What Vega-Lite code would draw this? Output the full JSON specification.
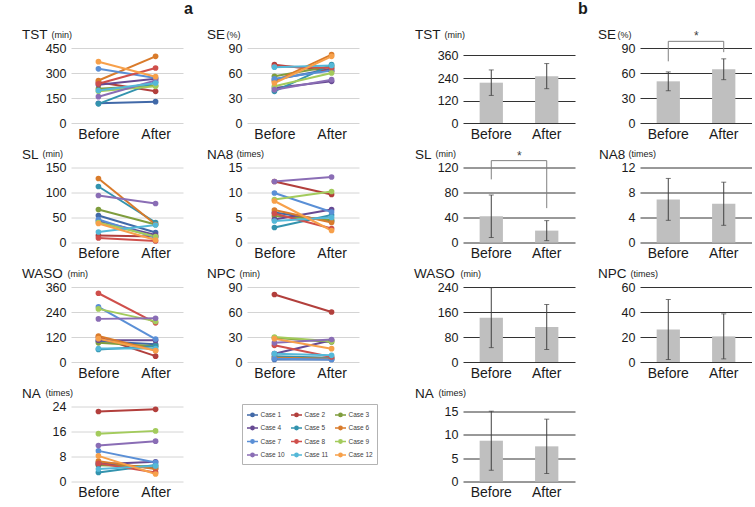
{
 "$schema": "https://vega.github.io/schema/vega-lite/v6.json",
 "padding": {"left": 22, "top": 0, "right": 0, "bottom": 0},
 "background": "white",
 "datasets": {
  "lines": [
   {"m":"TST","n":1,"Before":118,"After":128},{"m":"TST","n":2,"Before":245,"After":190},{"m":"TST","n":3,"Before":205,"After":225},{"m":"TST","n":4,"Before":230,"After":265},{"m":"TST","n":5,"Before":115,"After":245},{"m":"TST","n":6,"Before":255,"After":400},{"m":"TST","n":7,"Before":325,"After":270},{"m":"TST","n":8,"Before":235,"After":330},{"m":"TST","n":9,"Before":190,"After":220},{"m":"TST","n":10,"Before":158,"After":255},{"m":"TST","n":11,"Before":195,"After":240},{"m":"TST","n":12,"Before":368,"After":278},
   {"m":"SE","n":1,"Before":52,"After":65},{"m":"SE","n":2,"Before":70,"After":62},{"m":"SE","n":3,"Before":56,"After":68},{"m":"SE","n":4,"Before":42,"After":50},{"m":"SE","n":5,"Before":38,"After":70},{"m":"SE","n":6,"Before":50,"After":82},{"m":"SE","n":7,"Before":53,"After":63},{"m":"SE","n":8,"Before":68,"After":66},{"m":"SE","n":9,"Before":44,"After":60},{"m":"SE","n":10,"Before":40,"After":52},{"m":"SE","n":11,"Before":67,"After":69},{"m":"SE","n":12,"Before":48,"After":80},
   {"m":"SL","n":1,"Before":54,"After":20},{"m":"SL","n":2,"Before":14,"After":12},{"m":"SL","n":3,"Before":66,"After":36},{"m":"SL","n":4,"Before":43,"After":15},{"m":"SL","n":5,"Before":112,"After":40},{"m":"SL","n":6,"Before":128,"After":36},{"m":"SL","n":7,"Before":46,"After":10},{"m":"SL","n":8,"Before":9,"After":3},{"m":"SL","n":9,"Before":40,"After":12},{"m":"SL","n":10,"Before":94,"After":78},{"m":"SL","n":11,"Before":21,"After":35},{"m":"SL","n":12,"Before":38,"After":5},
   {"m":"NA8","n":1,"Before":6,"After":4.3},{"m":"NA8","n":2,"Before":12.2,"After":9.6},{"m":"NA8","n":3,"Before":5.3,"After":4.5},{"m":"NA8","n":4,"Before":4.6,"After":6.6},{"m":"NA8","n":5,"Before":3,"After":5.5},{"m":"NA8","n":6,"Before":6.5,"After":4},{"m":"NA8","n":7,"Before":9.9,"After":6.1},{"m":"NA8","n":8,"Before":5.8,"After":2.8},{"m":"NA8","n":9,"Before":8.6,"After":10.2},{"m":"NA8","n":10,"Before":12.2,"After":13.1},{"m":"NA8","n":11,"Before":4.3,"After":5},{"m":"NA8","n":12,"Before":8.3,"After":2.4},
   {"m":"WASO","n":1,"Before":100,"After":85},{"m":"WASO","n":2,"Before":120,"After":28},{"m":"WASO","n":3,"Before":92,"After":76},{"m":"WASO","n":4,"Before":105,"After":105},{"m":"WASO","n":5,"Before":60,"After":76},{"m":"WASO","n":6,"Before":125,"After":55},{"m":"WASO","n":7,"Before":265,"After":110},{"m":"WASO","n":8,"Before":330,"After":188},{"m":"WASO","n":9,"Before":255,"After":195},{"m":"WASO","n":10,"Before":207,"After":210},{"m":"WASO","n":11,"Before":65,"After":65},{"m":"WASO","n":12,"Before":112,"After":55},
   {"m":"NPC","n":1,"Before":3,"After":3},{"m":"NPC","n":2,"Before":81,"After":60},{"m":"NPC","n":3,"Before":29,"After":24},{"m":"NPC","n":4,"Before":10,"After":26},{"m":"NPC","n":5,"Before":7,"After":5},{"m":"NPC","n":6,"Before":5,"After":4},{"m":"NPC","n":7,"Before":4,"After":3},{"m":"NPC","n":8,"Before":20,"After":6},{"m":"NPC","n":9,"Before":30,"After":25},{"m":"NPC","n":10,"Before":23,"After":27},{"m":"NPC","n":11,"Before":10,"After":8},{"m":"NPC","n":12,"Before":28,"After":16},
   {"m":"NA","n":1,"Before":6,"After":4.2},{"m":"NA","n":2,"Before":22.4,"After":23.1},{"m":"NA","n":3,"Before":5.2,"After":4.8},{"m":"NA","n":4,"Before":5.5,"After":6.3},{"m":"NA","n":5,"Before":2.9,"After":5.3},{"m":"NA","n":6,"Before":6.5,"After":4},{"m":"NA","n":7,"Before":9.8,"After":6.1},{"m":"NA","n":8,"Before":5.8,"After":2.9},{"m":"NA","n":9,"Before":15.3,"After":16.2},{"m":"NA","n":10,"Before":11.5,"After":12.9},{"m":"NA","n":11,"Before":4,"After":5},{"m":"NA","n":12,"Before":8.2,"After":2.4}
  ],
  "bars": [
   {"m":"TST","t":"Before","mean":215,"sd":68},{"m":"TST","t":"After","mean":250,"sd":67},
   {"m":"SE","t":"Before","mean":50,"sd":11.3},{"m":"SE","t":"After","mean":64.5,"sd":12.5},
   {"m":"SL","t":"Before","mean":42,"sd":34},{"m":"SL","t":"After","mean":19,"sd":16},
   {"m":"NA8","t":"Before","mean":6.9,"sd":3.35},{"m":"NA8","t":"After","mean":6.2,"sd":3.45},
   {"m":"WASO","t":"Before","mean":142,"sd":96},{"m":"WASO","t":"After","mean":112,"sd":72},
   {"m":"NPC","t":"Before","mean":26,"sd":24},{"m":"NPC","t":"After","mean":20.5,"sd":18},
   {"m":"NA","t":"Before","mean":8.7,"sd":6.3},{"m":"NA","t":"After","mean":7.5,"sd":5.8}
  ]
 },
 "spacing": 55,
 "hconcat": [
  {
   "title": {"text": "a", "fontSize": 16, "fontWeight": "bold", "anchor": "start", "dx": 113, "dy": -7},
   "columns": 2, "bounds": "flush", "spacing": {"row": 44.5, "column": 64},
   "concat": [
    {"width":112,"height":75,"title":{"text":"TST","dx":-49,"dy":15.5},"data":{"name":"lines"},
     "transform":[{"filter":"datum.m==='TST'"},{"fold":["Before","After"],"as":["t","v"]}],
     "encoding":{"x":{"field":"t","type":"nominal","title":null,"scale":{"type":"point","domain":["Before","After"],"padding":0.48}},
      "y":{"field":"v","type":"quantitative","title":"(min)","scale":{"domain":[0,450]},"axis":{"values":[0,150,300,450],"titleX":-20}},
      "color":{"field":"n","type":"nominal","legend":{"orient":"none","legendX":171,"legendY":356,"direction":"horizontal","columns":3,"title":null,"labelExpr":"'Case ' + datum.label","symbolType":"M-1,0H1M-0.3,0A0.3,0.3 0 1,1 0.3,0A0.3,0.3 0 1,1 -0.3,0","symbolSize":121,"symbolStrokeWidth":1.5,"labelFontSize":6.5,"labelColor":"#404040","labelOffset":1.5,"strokeColor":"#b3b3b3","fillColor":"white","padding":4,"rowPadding":1.5,"columnPadding":3}}},
     "layer":[{"mark":{"type":"line","strokeWidth":2}},{"mark":{"type":"circle","size":32,"opacity":1}}]},
    {"width":112,"height":75,"title":{"text":"SE","dx":-40,"dy":15.5},"data":{"name":"lines"},
     "transform":[{"filter":"datum.m==='SE'"},{"fold":["Before","After"],"as":["t","v"]}],
     "encoding":{"x":{"field":"t","type":"nominal","title":null,"scale":{"type":"point","domain":["Before","After"],"padding":0.48}},
      "y":{"field":"v","type":"quantitative","title":"(%)","scale":{"domain":[0,90]},"axis":{"values":[0,30,60,90],"titleX":-21}},
      "color":{"field":"n","type":"nominal"}},
     "layer":[{"mark":{"type":"line","strokeWidth":2}},{"mark":{"type":"circle","size":32,"opacity":1}}]},
    {"width":112,"height":75,"title":{"text":"SL","dx":-49,"dy":15.5},"data":{"name":"lines"},
     "transform":[{"filter":"datum.m==='SL'"},{"fold":["Before","After"],"as":["t","v"]}],
     "encoding":{"x":{"field":"t","type":"nominal","title":null,"scale":{"type":"point","domain":["Before","After"],"padding":0.48}},
      "y":{"field":"v","type":"quantitative","title":"(min)","scale":{"domain":[0,150]},"axis":{"values":[0,50,100,150],"titleX":-29}},
      "color":{"field":"n","type":"nominal"}},
     "layer":[{"mark":{"type":"line","strokeWidth":2}},{"mark":{"type":"circle","size":32,"opacity":1}}]},
    {"width":112,"height":75,"title":{"text":"NA8","dx":-40,"dy":15.5},"data":{"name":"lines"},
     "transform":[{"filter":"datum.m==='NA8'"},{"fold":["Before","After"],"as":["t","v"]}],
     "encoding":{"x":{"field":"t","type":"nominal","title":null,"scale":{"type":"point","domain":["Before","After"],"padding":0.48}},
      "y":{"field":"v","type":"quantitative","title":"(times)","scale":{"domain":[0,15]},"axis":{"values":[0,5,10,15],"titleX":-11}},
      "color":{"field":"n","type":"nominal"}},
     "layer":[{"mark":{"type":"line","strokeWidth":2}},{"mark":{"type":"circle","size":32,"opacity":1}}]},
    {"width":112,"height":75,"title":{"text":"WASO","dx":-49,"dy":15.5},"data":{"name":"lines"},
     "transform":[{"filter":"datum.m==='WASO'"},{"fold":["Before","After"],"as":["t","v"]}],
     "encoding":{"x":{"field":"t","type":"nominal","title":null,"scale":{"type":"point","domain":["Before","After"],"padding":0.48}},
      "y":{"field":"v","type":"quantitative","title":"(min)","scale":{"domain":[0,360]},"axis":{"values":[0,120,240,360],"titleX":-4}},
      "color":{"field":"n","type":"nominal"}},
     "layer":[{"mark":{"type":"line","strokeWidth":2}},{"mark":{"type":"circle","size":32,"opacity":1}}]},
    {"width":112,"height":75,"title":{"text":"NPC","dx":-40,"dy":15.5},"data":{"name":"lines"},
     "transform":[{"filter":"datum.m==='NPC'"},{"fold":["Before","After"],"as":["t","v"]}],
     "encoding":{"x":{"field":"t","type":"nominal","title":null,"scale":{"type":"point","domain":["Before","After"],"padding":0.48}},
      "y":{"field":"v","type":"quantitative","title":"(min)","scale":{"domain":[0,90]},"axis":{"values":[0,30,60,90],"titleX":-8}},
      "color":{"field":"n","type":"nominal"}},
     "layer":[{"mark":{"type":"line","strokeWidth":2}},{"mark":{"type":"circle","size":32,"opacity":1}}]},
    {"width":112,"height":75,"title":{"text":"NA","dx":-49,"dy":15.5},"data":{"name":"lines"},
     "transform":[{"filter":"datum.m==='NA'"},{"fold":["Before","After"],"as":["t","v"]}],
     "encoding":{"x":{"field":"t","type":"nominal","title":null,"scale":{"type":"point","domain":["Before","After"],"padding":0.48}},
      "y":{"field":"v","type":"quantitative","title":"(times)","scale":{"domain":[0,24]},"axis":{"values":[0,8,16,24],"titleX":-26}},
      "color":{"field":"n","type":"nominal"}},
     "layer":[{"mark":{"type":"line","strokeWidth":2}},{"mark":{"type":"circle","size":32,"opacity":1}}]}
   ]
  },
  {
   "title": {"text": "b", "fontSize": 16, "fontWeight": "bold", "anchor": "start", "dx": 115, "dy": -7},
   "columns": 2, "bounds": "flush", "spacing": {"row": 44.5, "column": 65},
   "concat": [
    {"width":112,"height":75,"title":{"text":"TST","dx":-48,"dy":15.5},
     "layer":[
      {"data":{"name":"bars"},"transform":[{"filter":"datum.m==='TST'"}],"mark":{"type":"bar","color":"#bfbfbf"},
       "encoding":{"x":{"field":"t","type":"nominal","title":null,"scale":{"domain":["Before","After"],"paddingInner":0.58,"paddingOuter":0.3}},
        "y":{"field":"mean","type":"quantitative","title":"(min)","scale":{"domain":[0,360]},"axis":{"values":[0,120,240,360],"titleX":-19,"gridColor":"#333333"}}}},
      {"data":{"name":"bars"},"transform":[{"filter":"datum.m==='TST'"}],"mark":{"type":"errorbar","ticks":{"size":5},"color":"#404040"},
       "encoding":{"x":{"field":"t","type":"nominal","title":null,"scale":{"domain":["Before","After"]}},"y":{"field":"mean","type":"quantitative","title":"(min)","axis":{"values":[0,120,240,360],"titleX":-19,"gridColor":"#333333"}},"yError":{"field":"sd"}}}
     ]},
    {"width":112,"height":75,"title":{"text":"SE","dx":-42,"dy":15.5},
     "layer":[
      {"data":{"name":"bars"},"transform":[{"filter":"datum.m==='SE'"}],"mark":{"type":"bar","color":"#bfbfbf"},
       "encoding":{"x":{"field":"t","type":"nominal","title":null,"scale":{"domain":["Before","After"],"paddingInner":0.58,"paddingOuter":0.3}},
        "y":{"field":"mean","type":"quantitative","title":"(%)","scale":{"domain":[0,90]},"axis":{"values":[0,30,60,90],"titleX":-23,"gridColor":"#333333"}}}},
      {"data":{"name":"bars"},"transform":[{"filter":"datum.m==='SE'"}],"mark":{"type":"errorbar","ticks":{"size":5},"color":"#404040"},
       "encoding":{"x":{"field":"t","type":"nominal","title":null,"scale":{"domain":["Before","After"]}},"y":{"field":"mean","type":"quantitative","title":"(%)","axis":{"values":[0,30,60,90],"titleX":-23,"gridColor":"#333333"}},"yError":{"field":"sd"}}},
      {"data":{"values":[{"t":"Before","lo":74,"hi":98},{"t":"After","lo":85,"hi":98}]},"mark":{"type":"rule","color":"#808080","strokeWidth":1},
       "encoding":{"x":{"field":"t","type":"nominal","title":null,"bandPosition":0.5,"scale":{"domain":["Before","After"]}},"y":{"field":"lo","type":"quantitative","title":"(%)","axis":{"values":[0,30,60,90],"titleX":-23,"gridColor":"#333333"}},"y2":{"field":"hi"}}},
      {"data":{"values":[{"a":"Before","b":"After","y":98}]},"mark":{"type":"rule","color":"#808080","strokeWidth":1},
       "encoding":{"x":{"field":"a","type":"nominal","title":null,"bandPosition":0.5,"scale":{"domain":["Before","After"]}},"x2":{"field":"b","bandPosition":0.5},"y":{"field":"y","type":"quantitative","title":"(%)","axis":{"values":[0,30,60,90],"titleX":-23,"gridColor":"#333333"}}}},
      {"data":{"values":[{"a":"Before","y":105,"s":"*"}]},"mark":{"type":"text","fontSize":12,"color":"#404040","baseline":"middle"},
       "encoding":{"x":{"field":"a","type":"nominal","title":null,"bandPosition":1.7,"scale":{"domain":["Before","After"]}},"y":{"field":"y","type":"quantitative","title":"(%)","axis":{"values":[0,30,60,90],"titleX":-23,"gridColor":"#333333"}},"text":{"field":"s"}}}
     ]},
    {"width":112,"height":75,"title":{"text":"SL","dx":-48,"dy":15.5},
     "layer":[
      {"data":{"name":"bars"},"transform":[{"filter":"datum.m==='SL'"}],"mark":{"type":"bar","color":"#bfbfbf"},
       "encoding":{"x":{"field":"t","type":"nominal","title":null,"scale":{"domain":["Before","After"],"paddingInner":0.58,"paddingOuter":0.3}},
        "y":{"field":"mean","type":"quantitative","title":"(min)","scale":{"domain":[0,120]},"axis":{"values":[0,40,80,120],"titleX":-28,"gridColor":"#333333"}}}},
      {"data":{"name":"bars"},"transform":[{"filter":"datum.m==='SL'"}],"mark":{"type":"errorbar","ticks":{"size":5},"color":"#404040"},
       "encoding":{"x":{"field":"t","type":"nominal","title":null,"scale":{"domain":["Before","After"]}},"y":{"field":"mean","type":"quantitative","title":"(min)","axis":{"values":[0,40,80,120],"titleX":-28,"gridColor":"#333333"}},"yError":{"field":"sd"}}},
      {"data":{"values":[{"t":"Before","lo":101,"hi":131},{"t":"After","lo":55,"hi":131}]},"mark":{"type":"rule","color":"#808080","strokeWidth":1},
       "encoding":{"x":{"field":"t","type":"nominal","title":null,"bandPosition":0.5,"scale":{"domain":["Before","After"]}},"y":{"field":"lo","type":"quantitative","title":"(min)","axis":{"values":[0,40,80,120],"titleX":-28,"gridColor":"#333333"}},"y2":{"field":"hi"}}},
      {"data":{"values":[{"a":"Before","b":"After","y":131}]},"mark":{"type":"rule","color":"#808080","strokeWidth":1},
       "encoding":{"x":{"field":"a","type":"nominal","title":null,"bandPosition":0.5,"scale":{"domain":["Before","After"]}},"x2":{"field":"b","bandPosition":0.5},"y":{"field":"y","type":"quantitative","title":"(min)","axis":{"values":[0,40,80,120],"titleX":-28,"gridColor":"#333333"}}}},
      {"data":{"values":[{"a":"Before","y":139,"s":"*"}]},"mark":{"type":"text","fontSize":12,"color":"#404040","baseline":"middle"},
       "encoding":{"x":{"field":"a","type":"nominal","title":null,"bandPosition":1.7,"scale":{"domain":["Before","After"]}},"y":{"field":"y","type":"quantitative","title":"(min)","axis":{"values":[0,40,80,120],"titleX":-28,"gridColor":"#333333"}},"text":{"field":"s"}}}
     ]},
    {"width":112,"height":75,"title":{"text":"NA8","dx":-41,"dy":15.5},
     "layer":[
      {"data":{"name":"bars"},"transform":[{"filter":"datum.m==='NA8'"}],"mark":{"type":"bar","color":"#bfbfbf"},
       "encoding":{"x":{"field":"t","type":"nominal","title":null,"scale":{"domain":["Before","After"],"paddingInner":0.58,"paddingOuter":0.3}},
        "y":{"field":"mean","type":"quantitative","title":"(times)","scale":{"domain":[0,12]},"axis":{"values":[0,4,8,12],"titleX":-12,"gridColor":"#333333"}}}},
      {"data":{"name":"bars"},"transform":[{"filter":"datum.m==='NA8'"}],"mark":{"type":"errorbar","ticks":{"size":5},"color":"#404040"},
       "encoding":{"x":{"field":"t","type":"nominal","title":null,"scale":{"domain":["Before","After"]}},"y":{"field":"mean","type":"quantitative","title":"(times)","axis":{"values":[0,4,8,12],"titleX":-12,"gridColor":"#333333"}},"yError":{"field":"sd"}}}
     ]},
    {"width":112,"height":75,"title":{"text":"WASO","dx":-49,"dy":15.5},
     "layer":[
      {"data":{"name":"bars"},"transform":[{"filter":"datum.m==='WASO'"}],"mark":{"type":"bar","color":"#bfbfbf"},
       "encoding":{"x":{"field":"t","type":"nominal","title":null,"scale":{"domain":["Before","After"],"paddingInner":0.58,"paddingOuter":0.3}},
        "y":{"field":"mean","type":"quantitative","title":"(min)","scale":{"domain":[0,240]},"axis":{"values":[0,80,160,240],"titleX":-3,"gridColor":"#333333"}}}},
      {"data":{"name":"bars"},"transform":[{"filter":"datum.m==='WASO'"}],"mark":{"type":"errorbar","ticks":{"size":5},"color":"#404040"},
       "encoding":{"x":{"field":"t","type":"nominal","title":null,"scale":{"domain":["Before","After"]}},"y":{"field":"mean","type":"quantitative","title":"(min)","axis":{"values":[0,80,160,240],"titleX":-3,"gridColor":"#333333"}},"yError":{"field":"sd"}}}
     ]},
    {"width":112,"height":75,"title":{"text":"NPC","dx":-42,"dy":15.5},
     "layer":[
      {"data":{"name":"bars"},"transform":[{"filter":"datum.m==='NPC'"}],"mark":{"type":"bar","color":"#bfbfbf"},
       "encoding":{"x":{"field":"t","type":"nominal","title":null,"scale":{"domain":["Before","After"],"paddingInner":0.58,"paddingOuter":0.3}},
        "y":{"field":"mean","type":"quantitative","title":"(times)","scale":{"domain":[0,60]},"axis":{"values":[0,20,40,60],"titleX":-10,"gridColor":"#333333"}}}},
      {"data":{"name":"bars"},"transform":[{"filter":"datum.m==='NPC'"}],"mark":{"type":"errorbar","ticks":{"size":5},"color":"#404040"},
       "encoding":{"x":{"field":"t","type":"nominal","title":null,"scale":{"domain":["Before","After"]}},"y":{"field":"mean","type":"quantitative","title":"(times)","axis":{"values":[0,20,40,60],"titleX":-10,"gridColor":"#333333"}},"yError":{"field":"sd"}}}
     ]},
    {"width":112,"height":75,"title":{"text":"NA","dx":-48,"dy":15.5},
     "layer":[
      {"data":{"name":"bars"},"transform":[{"filter":"datum.m==='NA'"}],"mark":{"type":"bar","color":"#bfbfbf"},
       "encoding":{"x":{"field":"t","type":"nominal","title":null,"scale":{"domain":["Before","After"],"paddingInner":0.58,"paddingOuter":0.3}},
        "y":{"field":"mean","type":"quantitative","title":"(times)","scale":{"domain":[0,15]},"axis":{"values":[0,5,10,15],"titleX":-25,"gridColor":"#333333"}}}},
      {"data":{"name":"bars"},"transform":[{"filter":"datum.m==='NA'"}],"mark":{"type":"errorbar","ticks":{"size":5},"color":"#404040"},
       "encoding":{"x":{"field":"t","type":"nominal","title":null,"scale":{"domain":["Before","After"]}},"y":{"field":"mean","type":"quantitative","title":"(times)","axis":{"values":[0,5,10,15],"titleX":-25,"gridColor":"#333333"}},"yError":{"field":"sd"}}}
     ]}
   ]
  }
 ],
 "config": {
  "font": "Liberation Sans",
  "view": {"stroke": null},
  "range": {"category": ["#4169A8","#B23F3C","#7F9D3D","#674A93","#3393AE","#D97B2B","#5A8FD6","#CF4F4B","#A3CB5C","#8A6DB5","#54B8D8","#F7A04A"]},
  "title": {"fontSize": 13.5, "fontWeight": "normal", "anchor": "start", "frame": "group", "color": "#1a1a1a", "offset": 0, "baseline": "alphabetic"},
  "axis": {"domain": false, "ticks": false, "labelColor": "#1a1a1a", "titleColor": "#1a1a1a"},
  "axisX": {"labelFontSize": 14, "labelAngle": 0, "labelPadding": 4, "grid": false},
  "axisY": {"labelFontSize": 12.5, "labelPadding": 5, "titleAngle": 0, "titleAlign": "left", "titleBaseline": "alphabetic", "titleFontSize": 9, "titleFontWeight": "normal", "titleY": -11, "gridColor": "#d4d4d4", "gridWidth": 1}
 }
}
